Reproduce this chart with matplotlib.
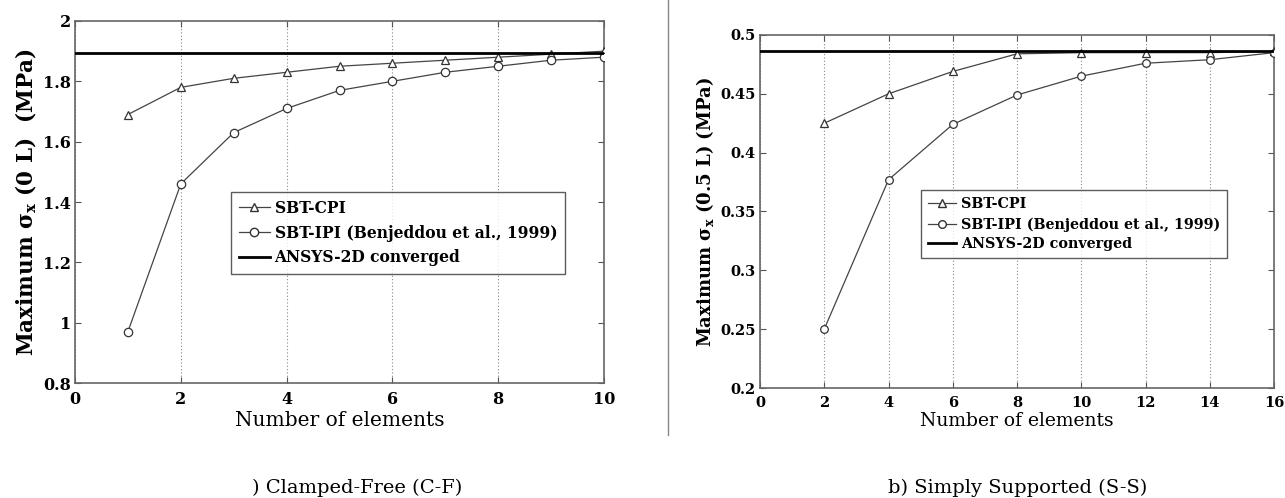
import matplotlib
matplotlib.use("Agg")
import matplotlib.pyplot as plt
from matplotlib.lines import Line2D

plt.rcParams['font.family'] = ['DejaVu Serif']
plt.rcParams['mathtext.fontset'] = 'dejavuserif'

# ---- data: panel a (Clamped-Free) ----
a_elements = [1, 2, 3, 4, 5, 6, 7, 8, 9, 10]
a_cpi = [1.69, 1.78, 1.81, 1.83, 1.85, 1.86, 1.87, 1.88, 1.89, 1.90]
a_ipi = [0.97, 1.46, 1.63, 1.71, 1.77, 1.80, 1.83, 1.85, 1.87, 1.88]
a_ansys = 1.893
a_xticks = [0, 2, 4, 6, 8, 10]
a_yticks = [0.8, 1.0, 1.2, 1.4, 1.6, 1.8, 2.0]
a_yticklabels = ['0.8', '1', '1.2', '1.4', '1.6', '1.8', '2']

# ---- data: panel b (Simply Supported) ----
b_elements = [2, 4, 6, 8, 10, 12, 14, 16]
b_cpi = [0.425, 0.450, 0.469, 0.484, 0.485, 0.485, 0.485, 0.486]
b_ipi = [0.250, 0.377, 0.424, 0.449, 0.465, 0.476, 0.479, 0.485]
b_ansys = 0.486
b_xticks = [0, 2, 4, 6, 8, 10, 12, 14, 16]
b_yticks = [0.2, 0.25, 0.3, 0.35, 0.4, 0.45, 0.5]
b_yticklabels = ['0.2', '0.25', '0.3', '0.35', '0.4', '0.45', '0.5']

labels = ['SBT-CPI', 'SBT-IPI (Benjeddou et al., 1999)', 'ANSYS-2D converged']

W, H = 1285, 498
fig = plt.figure(figsize=(W / 100, H / 100), dpi=100)


def box(l, t, r, b):
    return [l / W, 1 - b / H, (r - l) / W, (b - t) / H]


def style(ax, xticks, yticks, yticklabels, xlim, ylim, tickfs):
    ax.set_xlim(*xlim)
    ax.set_ylim(*ylim)
    ax.set_xticks(xticks)
    ax.set_yticks(yticks)
    ax.set_yticklabels(yticklabels)
    ax.tick_params(direction='in', top=True, right=True, length=4, width=0.8,
                   color='#555555', labelsize=tickfs)
    ax.tick_params(axis='x', pad=6)
    ax.tick_params(axis='y', pad=3)
    for lab in ax.get_xticklabels() + ax.get_yticklabels():
        lab.set_fontweight('bold')
    for s in ax.spines.values():
        s.set_color('#666666')
        s.set_linewidth(1.2)
    ax.xaxis.grid(True, linestyle=(0, (1, 2)), color='#888888', linewidth=0.8)
    ax.yaxis.grid(False)
    ax.set_axisbelow(True)


def plot_panel(ax, xs, cpi, ipi, ansys, ms):
    ax.plot(xs, cpi, color='#444444', lw=0.9, marker='^', ms=ms,
            mfc='white', mec='#333333', mew=0.9, zorder=3)
    ax.plot(xs, ipi, color='#444444', lw=0.9, marker='o', ms=ms,
            mfc='white', mec='#333333', mew=0.9, zorder=3)
    ax.axhline(ansys, color='black', lw=2.0, zorder=4)


def legend(ax, loc, fs, ms, spacing):
    handles = [
        Line2D([], [], color='#444444', lw=0.9, marker='^', ms=ms, mfc='white', mec='#333333'),
        Line2D([], [], color='#444444', lw=0.9, marker='o', ms=ms, mfc='white', mec='#333333'),
        Line2D([], [], color='black', lw=2.0),
    ]
    leg = ax.legend(handles, labels, loc='upper left', bbox_to_anchor=loc,
                    prop={'family': 'DejaVu Serif', 'weight': 'bold', 'size': fs},
                    frameon=True, fancybox=False, edgecolor='#333333',
                    handlelength=2.0, handletextpad=0.3, borderpad=0.5,
                    labelspacing=spacing, borderaxespad=0)
    leg.get_frame().set_linewidth(1.0)
    leg.set_zorder(10)


# ---- panel a ----
axa = fig.add_axes(box(75, 21, 604, 383))
style(axa, a_xticks, a_yticks, a_yticklabels, (0, 10), (0.8, 2.0), 11.5)
plot_panel(axa, a_elements, a_cpi, a_ipi, a_ansys, 6)
legend(axa, (2.95 / 10, (1.433 - 0.8) / 1.2), 11.2, 6, 0.5)
axa.set_xlabel('Number of elements', fontsize=14.5, labelpad=2)
axa.set_ylabel(r'Maximum $\mathbf{\sigma_x}$ (0 L)  (MPa)', fontsize=15.5,
               fontweight='bold', labelpad=3)

# ---- panel b ----
axb = fig.add_axes(box(760, 35, 1274, 388))
style(axb, b_xticks, b_yticks, b_yticklabels, (0, 16), (0.2, 0.5), 10.5)
plot_panel(axb, b_elements, b_cpi, b_ipi, b_ansys, 5.5)
legend(axb, (5.0 / 16, (0.368 - 0.2) / 0.3), 10.3, 5.5, 0.4)
axb.set_xlabel('Number of elements', fontsize=13.5, labelpad=1)
axb.set_ylabel(r'Maximum $\mathbf{\sigma_x}$ (0.5 L) (MPa)', fontsize=13,
               fontweight='bold', labelpad=3)

# separator line
fig.add_artist(Line2D([668 / W, 668 / W], [1.0, 1 - 435 / H],
                      transform=fig.transFigure, color='#888888', lw=1.0))

# captions at the bottom edge
fig.text(357 / W, 1 - 497 / H, ') Clamped-Free (C-F)', ha='center', va='bottom',
         fontsize=14)
fig.text(1018 / W, 1 - 497 / H, 'b) Simply Supported (S-S)', ha='center', va='bottom',
         fontsize=14)

fig.savefig('out.png', dpi=100)
